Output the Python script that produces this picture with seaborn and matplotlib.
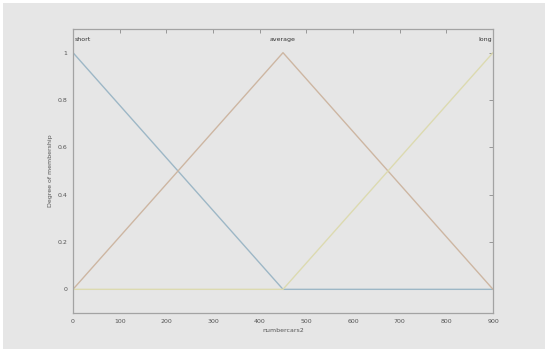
# Membership functions for numbercars2 (short / average / long)

import pandas as pd
import numpy as np
import matplotlib
matplotlib.use("Agg")
import matplotlib.pyplot as plt
import seaborn as sns
from matplotlib.patches import Rectangle

# data
x_points = [0, 450, 900]
short = [1, 0, 0]
average = [0, 1, 0]
long_ = [0, 0, 1]
mf_names = ["short", "average", "long"]
x_ticks = [0, 100, 200, 300, 400, 500, 600, 700, 800, 900]
y_ticks = [0, 0.2, 0.4, 0.6, 0.8, 1]

df = pd.DataFrame({
    "x": x_points * 3,
    "y": short + average + long_,
    "mf": [n for n in mf_names for _ in x_points],
})

sns.set_style("white")
bg = "#e6e6e6"
fig = plt.figure(figsize=(5.5, 3.53), dpi=100, facecolor="white")
# grey panel behind everything, leaving a thin white border
fig.patches.append(Rectangle((3 / 550, 1 - 349 / 353), 542 / 550, 346 / 353,
                             transform=fig.transFigure, facecolor=bg,
                             edgecolor="none", zorder=-10))
ax = fig.add_axes([73 / 550, 1 - 313 / 353, 420 / 550, 284 / 353])
ax.set_facecolor(bg)

palette = {"short": "#9db7c6", "average": "#cdb6a2", "long": "#dcdab0"}
sns.lineplot(data=df, x="x", y="y", hue="mf", palette=palette, ax=ax,
             linewidth=1.0, legend=False)

# label each curve at its peak
for name, xp, ha in zip(mf_names, [3, 450, 897], ["left", "center", "right"]):
    ax.text(xp, 1.045, name, ha=ha, va="bottom", fontsize=4.5, color="#333333")

ax.set_xlim(0, 900)
ax.set_ylim(-0.1, 1.1)
ax.set_xticks(x_ticks)
ax.set_yticks(y_ticks)
ax.set_xticklabels([str(t) for t in x_ticks])
ax.set_yticklabels(["0", "0.2", "0.4", "0.6", "0.8", "1"])
ax.tick_params(direction="in", top=True, right=True, length=3, width=0.6,
               labelsize=4.5, colors="#8a8a8a", labelcolor="#555555", pad=4)
for side in ax.spines.values():
    side.set_color("#a3a3a3")
    side.set_linewidth(0.9)

ax.set_xlabel("numbercars2", fontsize=4.5, color="#555555", labelpad=3)
ax.set_ylabel("Degree of membership", fontsize=4.5, color="#555555", labelpad=3)

fig.savefig("out.png", dpi=100, facecolor="white")
